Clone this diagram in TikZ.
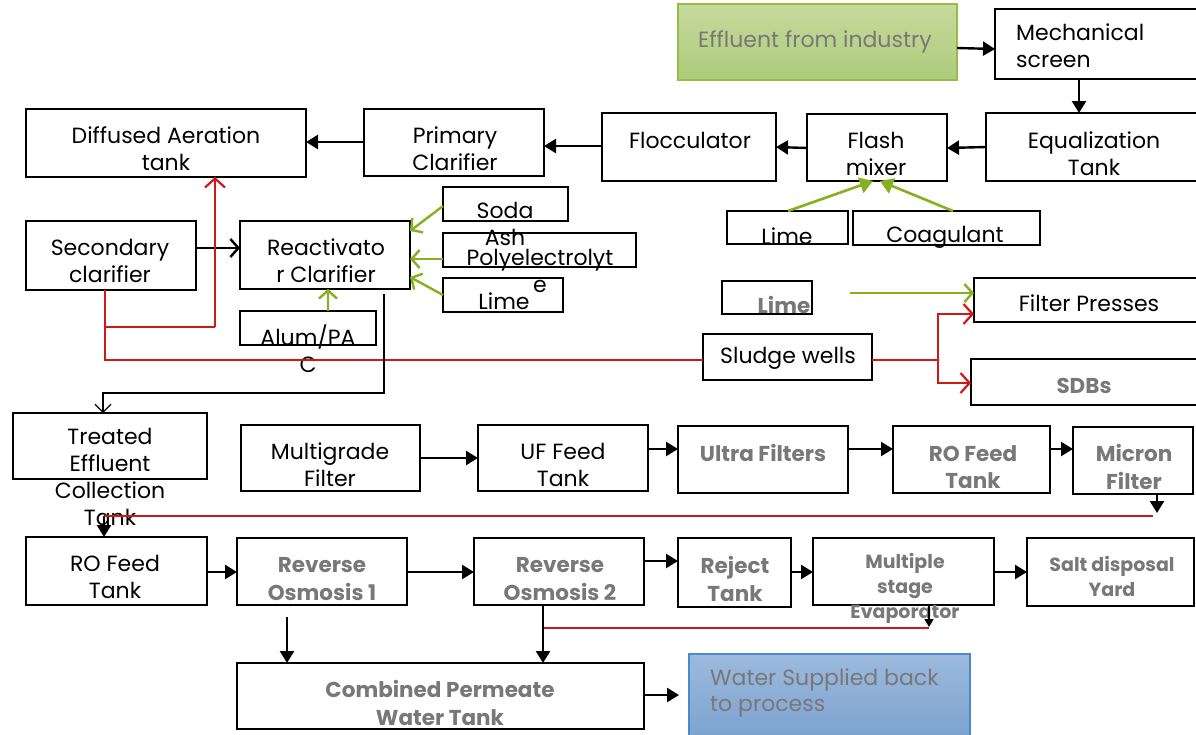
\documentclass[tikz,border=0pt]{standalone}
\usepackage{fontspec}
\setmainfont{Poppins}
\usetikzlibrary{arrows.meta,calc}
\definecolor{gtext}{RGB}{120,120,120}
\definecolor{grn}{RGB}{134,176,30}
\definecolor{rd}{RGB}{208,24,24}
\definecolor{effTop}{RGB}{198,218,156}
\definecolor{effBot}{RGB}{174,203,124}
\definecolor{effBd}{RGB}{150,190,70}
\definecolor{watTop}{RGB}{157,186,221}
\definecolor{watBot}{RGB}{120,160,206}
\definecolor{watBd}{RGB}{70,140,200}
\newcommand\mkbox[6][]{\node[bx,#1,minimum width={(#4-#2)*1pt},minimum height={(#6-#5)*1pt}] (#3) at ({(#2+#4)/2},{-(#5+#6)/2}) {};}
\tikzset{
 bx/.style={draw=black,line width=2.2pt,inner sep=0pt,outer sep=0pt,rectangle},
 tx/.style={inner sep=0pt,align=center,font=\fontsize{22}{26.8}\selectfont},
 bt/.style={inner sep=0pt,align=center,text=gtext,font=\bfseries\fontsize{21.5}{27.5}\selectfont},
 sbt/.style={inner sep=0pt,align=center,text=gtext,font=\bfseries\fontsize{19}{25}\selectfont},
 blk/.style={line width=2.4pt,-{Triangle[length=12pt,width=14pt]}},
 blo/.style={line width=2.4pt,-{Straight Barb[length=8pt,width=18pt]}},
 gfl/.style={grn,line width=2.6pt,-{Triangle[length=13pt,width=16pt]}},
 gar/.style={grn,line width=2.4pt,-{Straight Barb[length=8pt,width=18pt]}},
 rar/.style={rd,line width=2.2pt,-{Straight Barb[length=9pt,width=20pt]}},
 rl/.style={rd,line width=1.2pt},
}
\begin{document}
\begin{tikzpicture}[x=1pt,y=1pt]
\clip (0,0) rectangle (1196,-734);
\fill[white] (0,0) rectangle (1196,-734);
% boxes
\mkbox[draw=effBd,line width=1.5pt,top color=effTop,bottom color=effBot]{678}{eff}{957}{4}{80}
\mkbox{995}{mech}{1200}{9}{79}
\mkbox{986}{equ}{1200}{113}{181}
\mkbox{807}{flash}{947}{114}{181}
\mkbox{602}{floc}{776}{113}{181}
\mkbox{364}{prim}{544}{109}{176}
\mkbox{26}{diff}{306}{109}{177}
\mkbox{727}{limeA}{848}{211}{244}
\mkbox{853}{coag}{1040}{211}{245}
\mkbox{443}{soda}{568}{187}{221}
\mkbox{443}{poly}{636}{233}{267}
\mkbox{443}{limeB}{563}{278}{312}
\mkbox{26}{sec}{196}{221}{290}
\mkbox{240}{react}{410}{221}{289}
\mkbox{240}{alum}{376}{311}{345}
\mkbox{722}{limeC}{812}{281}{314}
\mkbox{974}{filt}{1200}{278}{322}
\mkbox{703}{sludge}{872}{334}{380}
\mkbox{971}{sdb}{1200}{359}{405}
\mkbox{13}{treat}{207}{413}{479}
\mkbox{241}{multi}{420}{425}{491}
\mkbox{478}{uff}{648}{425}{491}
\mkbox{678}{ultra}{848}{426}{493}
\mkbox{893}{rof}{1050}{426}{493}
\mkbox{1073}{micron}{1193}{427}{494}
\mkbox{26}{rofb}{207}{537}{605}
\mkbox{237}{ro1}{407}{538}{605}
\mkbox{474}{ro2}{644}{538}{605}
\mkbox{678}{rej}{791}{538}{607}
\mkbox{813}{mse}{994}{538}{605}
\mkbox{1027}{salt}{1194}{538}{606}
\mkbox{237}{comb}{644}{663}{729}
\mkbox[draw=watBd,line width=1.5pt,top color=watTop,bottom color=watBot]{689}{water}{970}{654}{745}
% texts
\node[tx,text=gtext,anchor=west] (effT) at (698,-42) {Effluent from industry};
\node[tx,align=left,anchor=west] (mechT) at (1016,-46) {Mechanical\\screen};
\node[tx] (equT) at (1094,-154) {Equalization\\Tank};
\node[tx] (flashT) at (876,-154) {Flash\\mixer};
\node[tx] (flocT) at (690,-140) {Flocculator};
\node[tx] (primT) at (455,-149) {Primary\\Clarifier};
\node[tx] (diffT) at (166,-149) {Diffused Aeration\\tank};
\node[tx] (limeAT) at (787,-236) {Lime};
\node[tx] (coagT) at (945,-237) {Coagulant};
\node[tx] (sodaT) at (505,-224) {Soda\\Ash};
\node[tx] (polyT) at (540,-271) {Polyelectrolyt\\e};
\node[tx] (limeBT) at (504,-301) {Lime};
\node[tx] (secT) at (110,-261) {Secondary\\clarifier};
\node[tx] (reactT) at (326,-261) {Reactivato\\r Clarifier};
\node[tx] (alumT) at (308,-349) {Alum/PA\\C};
\node[bt] (limeCT) at (784,-305) {Lime};
\node[tx] (filtT) at (1089,-303) {Filter Presses};
\node[tx] (sludgeT) at (788,-358) {Sludge wells};
\node[bt] (sdbT) at (1084,-386) {SDBs};
\node[tx] (treatT) at (110,-477) {Treated\\Effluent\\Collection\\Tank};
\node[tx] (multiT) at (330,-465) {Multigrade\\Filter};
\node[tx] (uffT) at (563,-465) {UF Feed\\Tank};
\node[bt] (ultraT) at (763,-453) {Ultra Filters};
\node[bt] (rofT) at (973,-467) {RO Feed\\Tank};
\node[bt] (micronT) at (1134,-467) {Micron\\Filter};
\node[tx] (rofbT) at (115,-577) {RO Feed\\Tank};
\node[bt] (ro1T) at (322,-579) {Reverse\\Osmosis 1};
\node[bt] (ro2T) at (560,-579) {Reverse\\Osmosis 2};
\node[bt] (rejT) at (735,-579) {Reject\\Tank};
\node[sbt] (mseT) at (905,-588) {Multiple\\stage\\Evaporator};
\node[sbt] (saltT) at (1112,-576) {Salt disposal\\Yard};
\node[bt] (combT) at (440,-703) {Combined Permeate\\Water Tank};
\node[tx,text=gtext,align=left,anchor=west] (waterT) at (710,-693) {Water Supplied back\\to process};
% black flow arrows
\draw[blk] (eff.east |- 0,-48) -- (mech.west |- 0,-49);
\draw[blk] (mech.south -| 1079,0) -- (equ.north -| 1079,0);
\draw[blk] (equ.west |- 0,-147) -- (flash.east |- 0,-148);
\draw[blk] (flash.west |- 0,-148) -- (floc.east |- 0,-147);
\draw[blk] (floc.west |- 0,-146) -- (prim.east |- 0,-146);
\draw[blk] (prim.west |- 0,-142) -- (diff.east |- 0,-142);
\draw[blo] (sec.east |- 0,-248) -- (react.west |- 0,-248);
% green chemical feeds
\draw[gfl] (limeA.north -| 788,0) -- (flash.south -| 873,0);
\draw[gfl] (coag.north -| 953,0) -- (flash.south -| 880,0);
\draw[gar] (soda.west |- 0,-206) -- (react.east |- 0,-231);
\draw[gar] (poly.west |- 0,-259) -- (react.east |- 0,-259);
\draw[gar] (limeB.west |- 0,-295) -- (react.east |- 0,-277);
\draw[gar] (alum.north -| 328,0) -- (react.south -| 328,0);
\draw[gar] ($(limeC.east |- 0,-293)+(38,0)$) -- (filt.west |- 0,-293);
% red sludge lines
\coordinate (rb) at (105,-327);
\coordinate (sj) at (938,-360);
\draw[rl] (sec.south -| 105,0) -- (105,-360) -- (sludge.west |- 0,-360);
\draw[rd,line width=1.5pt] (rb) -- (215,-327);
\draw[rar] (215,-327) -- (diff.south -| 215,0);
\draw[rl] (sludge.east |- sj) -- (sj);
\draw[rar] (sj) |- (filt.west |- 0,-314);
\draw[rar] (sj) |- (sdb.west |- 0,-383);
% reactivator to treated
\draw[line width=1.2pt,-{Straight Barb[length=8pt,width=16pt]}] ($(react.south -| 384,0)+(0,-5)$) -- (384,-393) -| (treat.north -| 103,0);
% filtration train
\draw[blk] (multi.east |- 0,-458) -- (uff.west |- 0,-458);
\draw[blk] (uff.east |- 0,-449) -- (ultra.west |- 0,-449);
\draw[blk] (ultra.east |- 0,-449) -- (rof.west |- 0,-449);
\draw[blk] (rof.east |- 0,-449) -- (micron.west |- 0,-449);
\coordinate (md) at (1157,-513);
\coordinate (rr) at (104,-516);
\draw[blk] (micron.south -| 1157,0) -- (md);
\draw[rl] (1153,-516) -- (rr);
\draw[blk] (rr) -- (rofb.north -| 104,0);
% RO train
\draw[blk] (rofb.east |- 0,-572) -- (ro1.west |- 0,-572);
\draw[blk] (ro1.east |- 0,-572) -- (ro2.west |- 0,-572);
\draw[blk] (ro2.east |- 0,-561) -- (rej.west |- 0,-561);
\draw[blk] (rej.east |- 0,-572) -- (mse.west |- 0,-572);
\draw[blk] (mse.east |- 0,-572) -- (salt.west |- 0,-572);
\coordinate (ed) at (929,-627);
\draw[line width=1.6pt,-{Triangle[length=8pt,width=9pt]}] (mse.south -| 929,0) -- (ed);
\draw[rl] (929,-628) -- (543,-628);
\draw[blk] (ro2.south -| 543,0) -- (comb.north -| 543,0);
\draw[blk] ($(ro1.south -| 287,0)+(0,-12)$) -- (comb.north -| 287,0);
\draw[blk] (comb.east |- 0,-695) -- ($(water.west |- 0,-695)+(-10,0)$);
\end{tikzpicture}
\end{document}
